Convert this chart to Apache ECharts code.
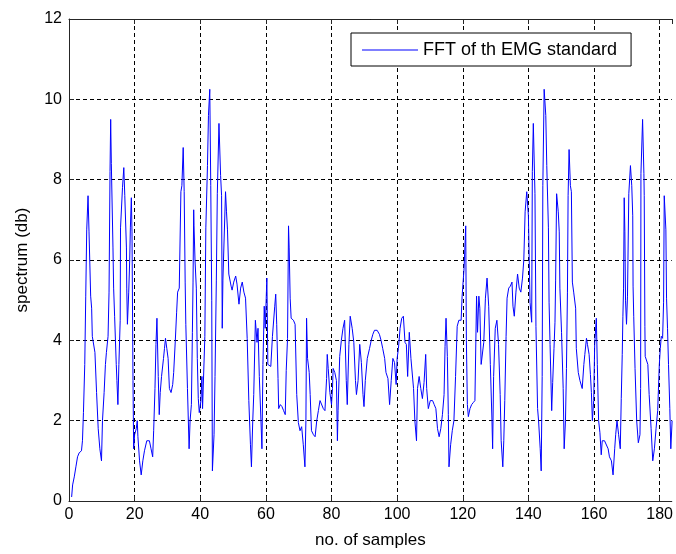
<!DOCTYPE html>
<html>
<head>
<meta charset="utf-8">
<title>FFT of th EMG standard</title>
<script src="https://cdn.jsdelivr.net/npm/echarts@6/dist/echarts.min.js"></script>
<style>
  html, body { margin: 0; padding: 0; background: #fff; overflow: hidden; }
  #chart { width: 676px; height: 554px; }
</style>
</head>
<body>
<div id="chart"></div>
<script>
// x positions (no. of samples) and spectrum values
var samples = [
  0.8, 1.1, 1.6, 2.1, 2.6, 3.1, 3.8, 4.1, 4.4, 4.8,
  5.1, 5.4, 5.8, 6.1, 6.6, 6.9, 7.1, 7.7, 7.9, 8.4,
  8.9, 9.4, 9.9, 10.2, 10.7, 11.1, 11.4, 11.9, 12.2, 12.5,
  12.7, 12.9, 13.2, 13.4, 13.6, 13.9, 14.4, 14.6, 14.9, 15.2,
  15.6, 15.7, 16.3, 16.7, 17.0, 17.5, 17.6, 17.8, 18.2, 18.5,
  18.7, 19.0, 19.2, 19.5, 19.7, 20.0, 20.5, 20.8, 21.0, 21.5,
  22.0, 22.5, 23.0, 23.7, 24.5, 25.0, 25.5, 25.8, 26.2, 26.5,
  26.8, 27.2, 27.5, 27.8, 28.2, 28.8, 29.1, 29.4, 29.8, 30.2,
  30.6, 31.1, 31.6, 31.9, 32.4, 32.8, 33.1, 33.6, 34.1, 34.4,
  34.8, 35.1, 35.4, 35.6, 36.1, 36.6, 36.9, 37.3, 37.6, 37.8,
  38.0, 38.1, 38.4, 38.8, 39.1, 39.4, 39.7, 40.2, 40.5, 40.7,
  41.4, 41.7, 42.2, 42.5, 42.9, 43.2, 43.5, 43.7, 44.2, 44.5,
  44.9, 45.2, 45.7, 46.2, 46.5, 46.7, 46.9, 47.7, 48.0, 48.3,
  48.7, 49.4, 49.7, 50.2, 50.8, 51.2, 51.8, 52.3, 52.8, 53.3,
  53.8, 54.3, 54.8, 55.3, 55.6, 56.0, 56.3, 56.8, 57.3, 57.6,
  58.0, 58.5, 58.8, 59.1, 59.5, 59.8, 60.1, 60.3, 60.6, 61.0,
  61.5, 62.0, 62.7, 63.0, 63.3, 63.7, 63.9, 64.4, 64.9, 65.4,
  65.9, 66.2, 66.6, 66.9, 67.1, 67.4, 67.7, 68.4, 68.9, 69.4,
  69.9, 70.4, 70.9, 71.4, 71.9, 72.2, 72.4, 72.7, 73.2, 73.5,
  73.9, 74.5, 75.0, 75.5, 76.0, 76.5, 77.0, 77.5, 78.0, 78.5,
  78.7, 79.0, 79.5, 80.0, 80.3, 80.5, 81.0, 81.5, 81.8, 82.0,
  82.5, 83.0, 83.5, 84.0, 84.5, 84.8, 85.3, 85.7, 86.3, 86.8,
  87.3, 87.6, 88.1, 88.6, 89.1, 89.6, 89.9, 90.3, 90.9, 91.6,
  92.1, 92.6, 93.1, 93.9, 94.6, 95.1, 95.6, 96.2, 96.6, 97.2,
  97.7, 98.2, 98.7, 99.2, 99.7, 100.0, 100.4, 100.9, 101.4, 101.9,
  102.4, 102.8, 103.2, 103.7, 104.2, 105.0, 105.4, 105.9, 106.2, 106.7,
  107.2, 107.7, 108.2, 108.7, 109.0, 109.5, 110.1, 110.8, 111.3, 111.8,
  112.3, 112.8, 113.3, 113.8, 114.3, 114.6, 114.9, 115.3, 115.6, 115.8,
  116.3, 116.8, 117.3, 117.8, 118.3, 118.8, 119.5, 119.8, 120.4, 120.9,
  121.1, 121.4, 121.7, 122.2, 122.7, 123.2, 123.7, 124.2, 124.5, 124.9,
  125.2, 125.6, 126.1, 126.4, 126.9, 127.4, 127.9, 128.4, 128.9, 129.1,
  129.4, 129.9, 130.4, 130.9, 131.4, 131.7, 132.2, 132.5, 132.8, 133.2,
  133.5, 134.0, 134.5, 135.0, 135.3, 135.7, 136.2, 136.7, 137.2, 137.7,
  138.2, 138.6, 139.0, 139.5, 140.0, 140.3, 140.5, 141.0, 141.2, 141.5,
  142.0, 142.3, 142.8, 143.1, 143.6, 143.9, 144.2, 144.4, 144.8, 145.3,
  145.6, 146.1, 146.3, 146.6, 147.1, 147.4, 147.8, 148.1, 148.3, 148.6,
  149.1, 149.4, 149.6, 150.1, 150.6, 150.9, 151.3, 151.6, 151.9, 152.1,
  152.4, 152.8, 153.1, 153.4, 153.8, 154.4, 154.6, 155.2, 155.7, 156.4,
  156.9, 157.2, 157.7, 158.0, 158.5, 158.9, 159.2, 159.5, 159.9, 160.2,
  160.7, 161.0, 161.4, 161.8, 162.2, 162.5, 163.2, 163.7, 164.3, 164.7,
  165.3, 165.8, 166.3, 166.6, 167.0, 167.5, 168.0, 168.3, 168.6, 168.8,
  169.0, 169.2, 169.4, 169.6, 169.9, 170.2, 170.6, 171.1, 171.5, 171.8,
  171.9, 172.1, 172.5, 173.0, 173.5, 174.0, 174.2, 174.3, 174.8, 175.2,
  175.3, 175.5, 175.6, 176.4, 176.8, 177.4, 177.9, 178.4, 178.9, 179.4,
  179.9, 180.2, 180.5, 180.9, 181.2, 181.4, 181.9, 182.1, 182.4, 182.7,
  183.1, 183.4, 183.8
];
var spectrum = [
  0.1, 0.4, 0.6, 0.85, 1.1, 1.2, 1.25, 1.5, 2.2, 3.4,
  5.1, 6.75, 7.6, 6.7, 5.1, 4.8, 4.1, 4.1, 3.7, 2.7,
  1.8, 1.3, 1.0, 2.0, 2.7, 3.4, 3.7, 4.1, 5.2, 8.2,
  9.5, 8.4, 8.4, 6.3, 5.3, 4.6, 3.4, 3.0, 2.4, 3.4,
  4.5, 6.8, 7.8, 8.3, 7.6, 6.3, 5.3, 4.4, 5.2, 6.0,
  6.8, 7.55, 6.7, 3.0, 1.3, 1.65, 1.8, 2.0, 1.6, 1.0,
  0.65, 1.0, 1.25, 1.5, 1.5, 1.3, 1.1, 1.75, 2.8, 3.9,
  4.55, 3.1, 2.15, 2.7, 3.1, 3.55, 3.8, 4.05, 3.8, 3.55,
  2.8, 2.7, 2.9, 3.2, 4.0, 4.7, 5.2, 5.3, 7.7, 7.85,
  8.8, 7.7, 5.45, 4.4, 2.8, 1.3, 2.0, 2.4, 4.2, 5.45,
  7.25, 6.85, 6.0, 5.3, 3.55, 2.55, 2.2, 2.5, 3.1, 2.3,
  4.1, 6.8, 8.35, 9.6, 10.25, 7.85, 5.0, 0.75, 1.65, 3.1,
  5.5, 7.65, 9.4, 8.1, 7.6, 4.3, 5.5, 7.7, 7.2, 6.75,
  5.65, 5.35, 5.25, 5.45, 5.6, 5.4, 4.9, 5.3, 5.45, 5.2,
  5.05, 4.05, 2.5, 1.4, 0.85, 2.0, 2.65, 4.5, 3.95, 4.3,
  3.1, 2.0, 1.3, 3.4, 4.85, 4.3, 5.05, 5.55, 3.4, 3.4,
  3.35, 4.1, 4.85, 5.15, 4.4, 3.05, 2.3, 2.4, 2.35, 2.25,
  2.15, 3.25, 4.05, 6.85, 6.3, 5.05, 4.55, 4.5, 4.4, 2.65,
  1.95, 1.75, 1.85, 1.4, 0.85, 2.0, 4.55, 3.55, 3.2, 2.65,
  1.75, 1.65, 1.6, 2.0, 2.25, 2.5, 2.5, 2.3, 2.25, 3.05,
  3.65, 3.3, 2.7, 2.4, 2.8, 3.3, 3.2, 3.0, 1.5, 2.25,
  3.6, 4.0, 4.3, 4.5, 3.0, 2.4, 3.9, 4.6, 4.3, 3.95,
  3.0, 2.65, 3.0, 3.9, 3.45, 2.65, 2.35, 3.0, 3.55, 3.8,
  4.0, 4.15, 4.25, 4.25, 4.15, 4.0, 3.8, 3.55, 3.2, 3.05,
  2.4, 3.0, 3.55, 3.45, 2.9, 3.55, 3.8, 4.3, 4.55, 4.6,
  3.95, 3.9, 3.1, 4.2, 3.55, 2.8, 2.0, 1.5, 2.8, 3.1,
  2.8, 2.55, 2.95, 3.65, 2.8, 2.3, 2.5, 2.5, 2.4, 2.3,
  1.8, 1.6, 1.8, 2.15, 2.65, 3.85, 4.55, 3.6, 2.15, 0.85,
  1.4, 1.75, 2.0, 3.1, 4.35, 4.5, 4.5, 5.1, 5.8, 6.85,
  4.0, 2.4, 2.1, 2.3, 2.4, 2.45, 2.5, 5.1, 4.2, 5.1,
  4.8, 3.4, 3.4, 3.95, 5.05, 5.55, 4.85, 3.4, 2.0, 1.3,
  3.1, 4.3, 4.5, 3.9, 2.65, 1.5, 0.85, 1.5, 2.5, 4.1,
  5.05, 5.3, 5.35, 5.45, 4.85, 4.6, 5.2, 5.65, 5.3, 5.2,
  5.55, 6.0, 7.2, 7.7, 7.1, 5.8, 4.95, 4.45, 8.2, 9.4,
  7.65, 4.35, 2.3, 2.0, 1.3, 0.75, 3.1, 7.85, 10.25, 9.6,
  8.35, 6.8, 4.95, 3.9, 2.25, 2.95, 3.8, 4.45, 5.5, 7.65,
  7.2, 6.7, 5.3, 4.2, 2.8, 1.3, 2.0, 3.3, 5.2, 7.6,
  8.75, 7.85, 7.7, 5.45, 5.2, 4.8, 3.8, 3.2, 3.0, 2.8,
  3.4, 3.65, 4.05, 3.9, 3.65, 3.15, 2.7, 2.0, 2.5, 3.9,
  4.55, 3.4, 2.0, 1.7, 1.15, 1.5, 1.5, 1.5, 1.3, 1.1,
  1.0, 0.65, 1.3, 1.65, 2.0, 1.65, 1.3, 2.55, 3.65, 4.6,
  5.3, 7.55, 6.7, 5.0, 4.4, 5.1, 7.65, 8.35, 7.85, 7.1,
  5.35, 4.6, 3.3, 2.0, 1.45, 1.65, 2.8, 8.15, 9.5, 8.15,
  7.6, 4.35, 3.6, 3.4, 2.65, 1.8, 1.0, 1.3, 1.8, 2.25,
  3.4, 3.8, 4.1, 4.05, 4.95, 7.6, 6.75, 5.05, 4.3, 3.4,
  2.3, 1.3, 2.0
];
var xTicks = [0, 20, 40, 60, 80, 100, 120, 140, 160, 180];
var yTicks = [0, 2, 4, 6, 8, 10, 12];

var axisColor = "#262626";
var fontFamily = "'Liberation Sans', Arial, sans-serif";

var chart = echarts.init(document.getElementById("chart"));

var lineData = samples.map(function(x, i) {
  return [x, spectrum[i]];
});

// the picture is cut off just after 183, so the axis stops there
var xMax = 183.7;

chart.setOption({
  animation: false,
  backgroundColor: "#fff",
  textStyle: { fontFamily: fontFamily },
  grid: {
    left: 69,
    right: 0,
    top: 19,
    bottom: 51
  },
  legend: {
    data: ["FFT of th EMG standard"],
    left: 351,
    top: 33,
    padding: [8, 14, 7, 11],
    backgroundColor: "#fff",
    borderColor: "#000",
    borderWidth: 1,
    borderRadius: 0,
    icon: "rect",
    itemWidth: 56,
    itemHeight: 1.2,
    itemGap: 6,
    textStyle: { fontSize: 18, color: "#000", fontFamily: fontFamily }
  },
  xAxis: [
    {
      type: "value",
      min: 0,
      max: xMax,
      interval: 20,
      name: "no. of samples",
      nameLocation: "middle",
      nameGap: 31,
      nameTextStyle: { fontSize: 17, color: "#000" },
      axisLine: { lineStyle: { color: axisColor, width: 1 } },
      axisTick: { inside: true, length: 5, lineStyle: { color: axisColor } },
      axisLabel: {
        color: "#000",
        fontSize: 16,
        margin: 6,
        showMaxLabel: false,
        formatter: function(v) {
          return xTicks.indexOf(v) >= 0 ? String(v) : "";
        }
      },
      splitLine: {
        show: true,
        showMaxLine: false,
        lineStyle: { color: "#000", type: [4, 3], width: 1 }
      }
    },
    {
      type: "value",
      position: "top",
      min: 0,
      max: xMax,
      interval: 20,
      axisLine: { lineStyle: { color: axisColor, width: 1 } },
      axisTick: { inside: true, length: 5, lineStyle: { color: axisColor } },
      axisLabel: { show: false },
      splitLine: { show: false }
    }
  ],
  yAxis: {
    type: "value",
    min: 0,
    max: 12,
    interval: 2,
    name: "spectrum (db)",
    nameLocation: "middle",
    nameRotate: 90,
    nameGap: 38,
    nameTextStyle: { fontSize: 17, color: "#000" },
    axisLine: { show: true, lineStyle: { color: axisColor, width: 1 } },
    axisTick: { show: true, inside: true, length: 5, lineStyle: { color: axisColor } },
    axisLabel: {
      color: "#000",
      fontSize: 16,
      margin: 7,
      formatter: function(v) {
        return yTicks.indexOf(v) >= 0 ? String(v) : "";
      }
    },
    splitLine: {
      show: true,
      lineStyle: { color: "#000", type: [4, 3], width: 1 }
    }
  },
  series: [
    {
      name: "FFT of th EMG standard",
      type: "line",
      xAxisIndex: 0,
      data: lineData,
      showSymbol: false,
      symbol: "none",
      itemStyle: { color: "#0000ff" },
      lineStyle: { color: "#0000ff", width: 1 },
      clip: true
    }
  ]
});
</script>
</body>
</html>
